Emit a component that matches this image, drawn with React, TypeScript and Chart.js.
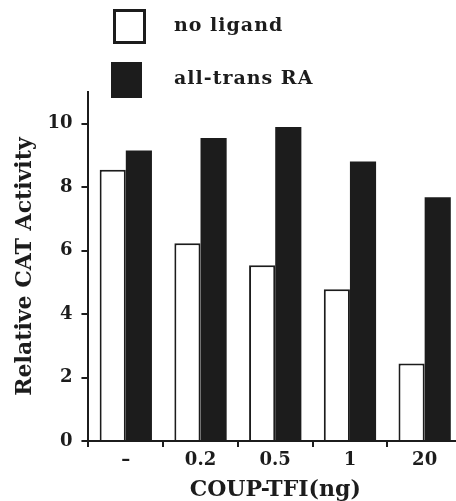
import React, { useEffect, useRef } from 'react';
import { Chart, registerables } from 'chart.js';

Chart.register(...registerables);

const categories = ['\u2013', '0.2', '0.5', '1', '20'];
const noLigand = [8.55, 6.23, 5.54, 4.78, 2.44];
const allTransRA = [9.16, 9.55, 9.9, 8.81, 7.68];
const yTicks = [0, 2, 4, 6, 8, 10];
const seriesLabels = ['no ligand', 'all-trans RA'];
const xTitle = 'COUP-TFI(ng)';
const yTitle = 'Relative CAT Activity';

const INK = '#1c1c1c';
const FONT = "'DejaVu Serif', serif";

export default function App() {
  const ref = useRef<HTMLCanvasElement | null>(null);

  useEffect(() => {
    document.body.style.margin = '0';
    const canvas = ref.current;
    if (!canvas) return;
    const chart = new Chart(canvas, {
      type: 'bar',
      data: {
        labels: categories,
        datasets: [
          {
            label: seriesLabels[0],
            data: noLigand,
            backgroundColor: '#ffffff',
            borderColor: INK,
            borderWidth: 2,
            borderSkipped: 'bottom',
            categoryPercentage: 0.7,
            barPercentage: 1.0,
          },
          {
            label: seriesLabels[1],
            data: allTransRA,
            backgroundColor: INK,
            borderWidth: 0,
            categoryPercentage: 0.7,
            barPercentage: 1.0,
          },
        ],
      },
      options: {
        responsive: false,
        animation: false,
        devicePixelRatio: 1,
        layout: { padding: { top: 92, left: 6, right: 0, bottom: 0 } },
        plugins: {
          legend: { display: false },
          tooltip: { enabled: false },
        },
        scales: {
          x: {
            grid: {
              offset: true,
              drawOnChartArea: false,
              drawTicks: true,
              tickLength: 6,
              color: INK,
              lineWidth: 2,
            },
            border: { color: INK, width: 2 },
            ticks: {
              color: INK,
              padding: 4,
              font: { family: FONT, weight: 'bold', size: 18, lineHeight: 1 },
            },
            title: {
              display: true,
              text: xTitle,
              color: INK,
              font: { family: FONT, weight: 'bold', size: 22, lineHeight: 1 },
              padding: { top: 6, bottom: 0 },
            },
          },
          y: {
            min: 0,
            max: 11,
            afterBuildTicks: (axis: any) => {
              axis.ticks = yTicks.map((v) => ({ value: v }));
            },
            grid: {
              drawOnChartArea: false,
              drawTicks: true,
              tickLength: 7,
              color: INK,
              lineWidth: 2,
            },
            border: { color: INK, width: 2 },
            ticks: {
              color: INK,
              padding: 9,
              font: { family: FONT, weight: 'bold', size: 18 },
            },
            title: {
              display: true,
              text: yTitle,
              color: INK,
              font: { family: FONT, weight: 'bold', size: 22 },
              padding: { top: 6, bottom: 0 },
            },
          },
        },
      },
    });
    return () => chart.destroy();
  }, []);

  const legendText: React.CSSProperties = {
    position: 'absolute',
    left: 174,
    fontFamily: FONT,
    fontWeight: 'bold',
    fontSize: 19,
    color: INK,
    letterSpacing: '1px',
    lineHeight: '22px',
    whiteSpace: 'nowrap',
  };

  return (
    <div
      style={{
        position: 'absolute',
        left: 0,
        top: 0,
        width: 456,
        height: 501,
        overflow: 'hidden',
        background: '#ffffff',
      }}
    >
      <canvas ref={ref} width={462} height={501} style={{ display: 'block' }} />
      <div
        style={{
          position: 'absolute',
          left: 113,
          top: 9,
          width: 27,
          height: 29,
          border: `3px solid ${INK}`,
          background: '#fff',
        }}
      />
      <div style={{ ...legendText, top: 13 }}>{seriesLabels[0]}</div>
      <div
        style={{
          position: 'absolute',
          left: 111,
          top: 62,
          width: 31,
          height: 36,
          background: INK,
        }}
      />
      <div style={{ ...legendText, top: 66 }}>{seriesLabels[1]}</div>
    </div>
  );
}
